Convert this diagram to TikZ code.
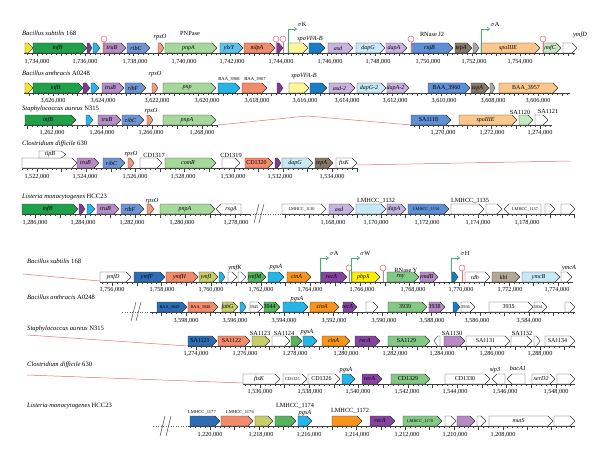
\documentclass[tikz,border=0pt]{standalone}
\usepackage{fontspec}
\setmainfont{Liberation Serif}
\usetikzlibrary{arrows.meta}

% gene colours
\definecolor{cYel}{HTML}{F2E32B}
\definecolor{cInf}{HTML}{21A04A}
\definecolor{cPur}{HTML}{7B3A96}
\definecolor{cCya}{HTML}{27B4E6}
\definecolor{cLav}{HTML}{B48DC6}
\definecolor{cRib}{HTML}{6E95D2}
\definecolor{cSal}{HTML}{F29A7E}
\definecolor{cPnp}{HTML}{A6D89C}
\definecolor{cSky}{HTML}{5DC3EE}
\definecolor{cOra}{HTML}{F08B6B}
\definecolor{cPal}{HTML}{FFF59A}
\definecolor{cBlu}{HTML}{1A7CC2}
\definecolor{cAsd}{HTML}{C7B4DE}
\definecolor{cDap}{HTML}{C7E8F6}
\definecolor{cRnj}{HTML}{5E8FD5}
\definecolor{cTep}{HTML}{857868}
\definecolor{cGry}{HTML}{A8A8A8}
\definecolor{cSpo}{HTML}{FBC78C}
\definecolor{cLgr}{HTML}{C8E7C2}
\definecolor{cDbl}{HTML}{2E6DB4}
\definecolor{cOli}{HTML}{C8CD6C}
\definecolor{cGrn}{HTML}{55B45D}
\definecolor{cCin}{HTML}{F7941D}
\definecolor{cRec}{HTML}{85449F}
\definecolor{cRny}{HTML}{84C886}
\definecolor{cYmd}{HTML}{B68BC4}
\definecolor{cKbl}{HTML}{B4A797}
\definecolor{cPbp}{HTML}{FFF000}
\definecolor{cLink}{HTML}{E07070}
\definecolor{cTerm}{HTML}{E8737A}
\definecolor{cProm}{HTML}{3DB36E}

\tikzset{
  genebox/.style={draw=black!80, line width=0.4pt, line join=round},
  glab/.style={font=\fontsize{6}{6.5}\selectfont\itshape, inner sep=0pt},
  toplab/.style={font=\fontsize{6.3}{7}\selectfont\itshape, inner sep=0pt},
  toptag/.style={font=\fontsize{6.3}{7}\selectfont, inner sep=0pt},
  toptiny/.style={font=\fontsize{4.6}{5}\selectfont, inner sep=0pt},
  numlab/.style={font=\fontsize{6.2}{7}\selectfont, inner sep=0pt},
  species/.style={font=\fontsize{6.6}{8}\selectfont, anchor=west, inner sep=0pt},
  axisline/.style={draw=black!75, line width=0.4pt},
  link/.style={draw=cLink, line width=0.5pt},
  termline/.style={draw=cTerm, line width=0.6pt},
  promline/.style={draw=cProm, line width=0.6pt, -{Straight Barb[length=2.5pt,width=4pt]}},
  breakline/.style={draw=black!70, line width=0.5pt},
  dotline/.style={draw=black!60, dotted, line width=0.5pt}
}

\newcommand{\tagu}[1]{{\upshape #1}}
\newcommand{\tags}[1]{{\upshape\fontsize{4.3}{5}\selectfont #1}}

\newcounter{gn}
% gene pointing right: x from, x to, axis y, colour, label
\newcommand{\gene}[5]{%
  \stepcounter{gn}%
  \pgfmathsetmacro{\hd}{min(5,0.6*(#2-#1))}%
  \filldraw[genebox, fill=#4] (#1,#3) -- ({#2-\hd},#3) -- (#2,#3-5) -- ({#2-\hd},#3-10) -- (#1,#3-10) -- cycle;
  \node[glab] (g\thegn) at ({(#1+#2-\hd)/2},#3-5) {#5};%
}
% gene pointing left
\newcommand{\geneL}[5]{%
  \stepcounter{gn}%
  \pgfmathsetmacro{\hd}{min(5,0.6*(#2-#1))}%
  \filldraw[genebox, fill=#4] (#2,#3) -- ({#1+\hd},#3) -- (#1,#3-5) -- ({#1+\hd},#3-10) -- (#2,#3-10) -- cycle;
  \node[glab] (g\thegn) at ({(#1+\hd+#2)/2},#3-5) {#5};%
}
% axis with ticks: from, to, axis y, tick origin, tick step
\newcommand{\scalebar}[5]{%
  \draw[axisline] (#1,#3) -- (#2,#3);
  \pgfmathtruncatemacro{\na}{ceil((#1-#4)/#5)}%
  \pgfmathtruncatemacro{\nb}{floor((#2-#4)/#5)}%
  \foreach \i in {\na,...,\nb}{%
    \pgfmathtruncatemacro{\mj}{mod(abs(\i),5)}%
    \ifnum\mj=0
      \draw[axisline] ({#4+\i*#5},#3) -- ++(0,3.5);
    \else
      \draw[axisline] ({#4+\i*#5},#3) -- ++(0,2);
    \fi
  }%
}
% terminator
\newcommand{\termin}[2]{%
  \draw[termline] (#1,#2) -- (#1,#2-11);
  \draw[termline, fill=white] (#1,#2-14) circle[radius=3pt];
}
% promoter
\newcommand{\promo}[3]{%
  \draw[promline] (#1,#2) -- (#1,#2-24) -- (#1+9,#2-24);
  \node[toptag] (s#1) at (#1+14,#2-29) {$\sigma$#3};
}

\begin{document}
\begin{tikzpicture}[x=1pt, y=-1pt]
\useasboundingbox (0,0) rectangle (600,460);

% Bacillus subtilis 168 (top)
\node[species] (sp1) at (22,33) {\textit{Bacillus subtilis} 168};
\scalebar{24}{575}{53}{37}{4.83}
\foreach \a/\b/\c/\t in {25/33/cYel/{}, 33/87/cInf/infB, 87/92/cPur/{}, 93/100/cCya/{},
    103/126/cLav/truB, 127/150/cRib/ribC, 158/164/cSal/{}, 165/217/cPnp/pnpA,
    220/243/cSky/ylxY, 244/275/cOra/mlpA, 276/283/cPur/{}, 288/308/cPal/{},
    309/325/cBlu/{}, 328/353/cAsd/asd, 356/385/cDap/dapG, 386/407/cAsd/dapA,
    411/453/cRnj/rnjB, 455/472/cTep/tepA, 473/479/cGry/{}, 481/540/cSpo/spoIIIE,
    543/561/cLgr/ymfC, 563/577/white/{}}{\gene{\a}{\b}{53}{\c}{\t}}
\foreach \x in {104,276,283,411,543}{\termin{\x}{53}}
\promo{288}{53}{K}
\promo{481}{53}{A}
\node[toplab] (t1rpso) at (160,37) {rpsO};
\node[toptag] (t1pnp) at (190,33) {PNPase};
\node[toplab] (t1spo) at (310,39) {spoVFA-B};
\node[toptag] (t1rnj) at (432,34) {RNase J2};
\node[toplab] (t1ymfd) at (580,35) {ymfD};
\foreach \x/\t in {37/{1,734,000}, 85/{1,736,000}, 135/{1,738,000}, 184/{1,740,000},
    232/{1,742,000}, 281/{1,744,000}, 330/{1,746,000}, 378/{1,748,000},
    428/{1,750,000}, 474/{1,752,000}, 520/{1,754,000}}{\node[numlab] (t1n\x) at (\x,62) {\t};}

% Bacillus anthracis A0248 (top)
\node[species] (sp2) at (22,73) {\textit{Bacillus anthracis} A0248};
\scalebar{24}{570}{93}{53}{4.85}
\foreach \a/\b/\c/\t in {25/33/cYel/{}, 33/83/cInf/infB, 83/90/cPur/{}, 91/99/cCya/{},
    102/124/cLav/truB, 125/146/cRib/ribF, 152/158/cSal/{}, 163/216/cPnp/pnp,
    218/240/cCya/{}, 242/267/cOra/{}, 277/283/cPur/{}, 289/309/cPal/{},
    310/327/cBlu/{}, 329/355/cAsd/asd-2, 357/386/cDap/dapG-2, 387/409/cAsd/dapA-2,
    428/470/cRnj/\tagu{BAA\_3960}, 471/489/cTep/tepA, 490/495/cGry/{},
    499/558/cSpo/\tagu{BAA\_3957}}{\gene{\a}{\b}{93}{\c}{\t}}
\node[toplab] (t2rpso) at (155,74) {rpsO};
\node[toptiny] (t2b68) at (229,79) {BAA\_3968};
\node[toptiny] (t2b67) at (255,79) {BAA\_3967};
\node[toplab] (t2spo) at (304,76) {spoVFA-B};
\foreach \x/\t in {53/{3,626,000}, 103/{3,624,000}, 157/{3,622,000}, 207/{3,620,000},
    257/{3,618,000}, 305/{3,616,000}, 347/{3,614,000}, 395/{3,612,000},
    444/{3,610,000}, 493/{3,608,000}, 538/{3,606,000}}{\node[numlab] (t2n\x) at (\x,101) {\t};}

% Staphylococcus aureus N315 (top)
\node[species] (sp3) at (22,109) {\textit{Staphylococcus aureus} N315};
\scalebar{24}{218}{125}{52}{5.0}
\scalebar{410}{552}{125}{443}{4.85}
\foreach \a/\b/\c/\t in {25/76/cInf/infB, 86/93/cCya/{}, 98/121/cLav/truB, 122/144/cRib/ribC,
    147/153/cSal/{}, 163/216/cPnp/pnpA, 411/451/cRnj/\tagu{SA1118},
    459/517/cSpo/spoIIIE, 519/533/cLgr/{}, 535/548/white/{}}{\gene{\a}{\b}{125}{\c}{\t}}
\coordinate (l3a) at (218,125);
\coordinate (l3b) at (307,116);
\coordinate (l3c) at (411,125);
\draw[link] (l3a) -- (l3b) -- (l3c);
\node[toplab] (t3rpso) at (151,111) {rpsO};
\node[toptag] (t3sa20) at (520,112) {SA1120};
\node[toptag] (t3sa21) at (548,111) {SA1121};
\foreach \x/\t in {52/{1,262,000}, 102/{1,264,000}, 151/{1,266,000}, 202/{1,268,000},
    443/{1,270,000}, 492/{1,272,000}, 540/{1,274,000}}{\node[numlab] (t3n\x) at (\x,133) {\t};}

% Clostridium difficile 630 (top)
\node[species] (sp4) at (22,144) {\textit{Clostridium difficile} 630};
\scalebar{22}{358}{168}{37}{4.92}
\foreach \a/\b/\c/\t in {22/77/white/{}, 77/99/cYmd/truB, 103/125/cRib/ribC, 128/134/cSal/{},
    140/162/white/{}, 165/216/cPnp/comR, 222/240/white/{}, 245/273/cOra/\tagu{CD1320},
    275/281/cPur/{}, 282/313/cDap/dapG, 315/333/cTep/tepA, 336/357/white/ftsK}{\gene{\a}{\b}{168}{\c}{\t}}
\filldraw[genebox, fill=white] (39,158) -- (61,158) -- (66,154.5) -- (61,151) -- (39,151) -- cycle;
\node[glab] (tipb) at (50,154.5) {tipB};
\coordinate (l4a) at (357,165);
\coordinate (l4b) at (570,161);
\draw[link] (l4a) -- (l4b);
\node[toplab] (t4rpso) at (131,154) {rpsO};
\node[toptag] (t4cd17) at (154,155) {CD1317};
\node[toptag] (t4cd19) at (231,155) {CD1319};
\foreach \x/\t in {37/{1,522,000}, 85/{1,524,000}, 135/{1,526,000}, 183/{1,528,000},
    233/{1,530,000}, 280/{1,532,000}, 332/{1,534,000}}{\node[numlab] (t4n\x) at (\x,177) {\t};}

% Listeria monocytogenes HCC23 (top)
\node[species] (sp5) at (22,197) {\textit{Listeria monocytogenes} HCC23};
\scalebar{22}{250}{214}{35}{5.0}
\scalebar{282}{575}{214}{333}{4.83}
\coordinate (b5a) at (250,214);
\coordinate (b5b) at (282,214);
\draw[dotline] (b5a) -- (b5b);
\draw[breakline] (254,223) -- (259,204);
\draw[breakline] (259,223) -- (264,204);
\foreach \a/\b/\c/\t in {22/78/cInf/infB, 79/85/cPur/{}, 87/95/cCya/{}, 97/119/cLav/truB,
    121/144/cRib/ribF, 147/154/cSal/{}, 160/215/cPnp/pnpA,
    282/326/white/\tags{LMHCC\_1130}, 329/354/cAsd/asd, 356/386/cDap/{}, 387/406/cAsd/dapA,
    408/449/cRnj/\tags{LMHCC\_1134}, 451/484/white/{}, 486/502/white/{},
    545/555/white/{}, 561/575/white/{}}{\gene{\a}{\b}{214}{\c}{\t}}
\geneL{216}{241}{214}{white}{rsgA}
\geneL{504}{541}{214}{white}{\tags{LMHCC\_1137}}
\node[toplab] (t5rpso) at (152,201) {rpsO};
\node[toptag] (t5l32) at (376,201) {LMHCC\_1132};
\node[toptag] (t5l35) at (470,201) {LMHCC\_1135};
\foreach \x/\t in {35/{1,286,000}, 83/{1,284,000}, 132/{1,282,000}, 182/{1,280,000},
    236/{1,278,000}, 333/{1,168,000}, 376/{1,170,000}, 427/{1,172,000},
    478/{1,174,000}, 527/{1,178,000}}{\node[numlab] (t5n\x) at (\x,223) {\t};}

% Bacillus subtilis 168 (bottom)
\node[species] (sp6) at (27,261) {\textit{Bacillus subtilis} 168};
\coordinate (l6a) at (23,274);
\coordinate (l6b) at (100,281);
\draw[link] (l6a) -- (l6b);
\scalebar{100}{573}{282}{112}{4.96}
\foreach \a/\b/\c/\t in {100/131/white/ymfD, 134/165/cDbl/ymfF, 166/198/cOra/ymfH,
    199/218/cOli/ymfI, 219/225/cCya/{}, 228/237/white/{}, 238/246/white/{},
    248/266/cGrn/ymfM, 268/284/cCya/{}, 287/311/cCin/cinA, 321/347/cRec/recA,
    352/380/cPbp/pbpX, 387/419/cRny/rny, 420/438/cYmd/ymdB, 452/458/cBlu/{},
    465/490/white/tdh, 492/520/cKbl/kbl, 522/560/cDap/ymcB,
    561/572/white/{}}{\gene{\a}{\b}{282}{\c}{\t}}
\foreach \x in {349,383,462}{\termin{\x}{282}}
\promo{320}{282}{A}
\promo{351}{282}{W}
\promo{451}{282}{H}
\node[toplab] (t6ymfk) at (235,268) {ymfK};
\node[toplab] (t6pgsa) at (276,267) {pgsA};
\node[toptag] (t6rny) at (406,270) {RNase Y};
\node[toplab] (t6ymca) at (569,268) {ymcA};
\foreach \x/\t in {112/{1,756,000}, 162/{1,758,000}, 211/{1,760,000}, 261/{1,762,000},
    310/{1,764,000}, 362/{1,766,000}, 413/{1,768,000}, 461/{1,770,000},
    510/{1,772,000}, 557/{1,774,000}}{\node[numlab] (t6n\x) at (\x,290) {\t};}

% Bacillus anthracis A0248 (bottom)
\node[species] (sp7) at (27,297) {\textit{Bacillus anthracis} A0248};
\coordinate (b7a) at (122,312);
\coordinate (b7b) at (150,312);
\draw[dotline] (b7a) -- (b7b);
\draw[breakline] (131,321) -- (136,302);
\draw[breakline] (136,321) -- (141,302);
\scalebar{150}{575}{312}{186}{4.9}
\foreach \a/\b/\c/\t in {157/187/cDbl/\tags{BAA\_3949}, 188/218/cOra/\tags{BAA\_3948},
    222/238/cOli/fabG, 240/246/cCya/{}, 250/263/white/\tags{3945}, 264/280/cGrn/\tagu{3944},
    283/308/cCya/{}, 310/339/cCin/cinA, 343/357/cRec/recA, 366/378/white/{},
    388/427/cRny/\tagu{3939}, 429/445/cYmd/\tagu{3938}, 453/460/cBlu/{},
    461/475/white/\tags{3936}, 489/533/white/\tagu{3935}, 534/547/white/\tags{3934},
    565/575/white/{}}{\gene{\a}{\b}{312}{\c}{\t}}
\node[toplab] (t7pgsa) at (297,299) {pgsA};
\foreach \x/\t in {186/{3,598,000}, 235/{3,596,000}, 284/{3,594,000}, 334/{3,592,000},
    384/{3,590,000}, 432/{3,588,000}, 477/{3,586,000}, 529/{3,584,000}}{\node[numlab] (t7n\x) at (\x,321) {\t};}

% Staphylococcus aureus N315 (bottom)
\node[species] (sp8) at (27,329) {\textit{Staphylococcus aureus} N315};
\coordinate (l8a) at (27,335);
\coordinate (l8b) at (188,346);
\draw[link] (l8a) -- (l8b);
\scalebar{188}{575}{346}{196}{4.91}
\foreach \a/\b/\c/\t in {188/217/cDbl/\tagu{SA1121}, 218/250/cOra/\tagu{SA1122},
    252/270/cOli/{}, 272/290/white/{}, 291/302/cGrn/{}, 303/317/cCya/{},
    322/350/cCin/cinA, 355/380/cRec/recA, 388/430/cRny/\tagu{SA1129},
    444/465/cYmd/{}, 466/510/white/\tagu{SA1131}, 511/532/white/{},
    534/540/white/{}, 545/575/white/\tagu{SA1134}}{\gene{\a}{\b}{346}{\c}{\t}}
\geneL{434}{440}{346}{white}{}
\node[toptag] (t8s23) at (260,333) {SA1123};
\node[toptag] (t8s24) at (284,333) {SA1124};
\node[toplab] (t8pgsa) at (307,332) {pgsA};
\node[toptag] (t8s30) at (452,333) {SA1130};
\node[toptag] (t8s32) at (522,333) {SA1132};
\foreach \x/\t in {196/{1,274,000}, 245/{1,276,000}, 295/{1,278,000}, 346/{1,280,000},
    395/{1,282,000}, 442/{1,284,000}, 492/{1,286,000}, 540/{1,288,000}}{\node[numlab] (t8n\x) at (\x,354) {\t};}

% Clostridium difficile 630 (bottom)
\node[species] (sp9) at (27,365) {\textit{Clostridium difficile} 630};
\coordinate (l9a) at (27,375);
\coordinate (l9b) at (243,383);
\draw[link] (l9a) -- (l9b);
\scalebar{243}{575}{384}{260}{4.93}
\foreach \a/\b/\c/\t in {243/280/white/ftsK, 283/307/white/\tags{CD1325}, 308/340/white/\tagu{CD1326},
    342/355/cCya/{}, 362/382/cRec/recA, 391/430/cRny/\tagu{CD1329},
    445/490/white/\tagu{CD1330}, 532/555/white/xerD2, 557/575/white/{}}{\gene{\a}{\b}{384}{\c}{\t}}
\geneL{492}{505}{384}{white}{}
\geneL{507}{525}{384}{white}{}
\node[toplab] (t9pgsa) at (346,370) {pgsA};
\node[toplab] (t9sip) at (495,370) {sip3};
\node[toplab] (t9bac) at (518,368) {bacA1};
\foreach \x/\t in {260/{1,536,000}, 310/{1,538,000}, 358/{1,540,000}, 407/{1,542,000},
    455/{1,544,000}, 505/{1,546,000}, 556/{1,548,000}}{\node[numlab] (t9n\x) at (\x,392) {\t};}

% Listeria monocytogenes HCC23 (bottom)
\node[species] (sp10) at (27,406) {\textit{Listeria monocytogenes} HCC23};
\coordinate (b10a) at (153,426);
\coordinate (b10b) at (188,426);
\draw[dotline] (b10a) -- (b10b);
\draw[breakline] (160,436) -- (165,416);
\draw[breakline] (166,436) -- (171,416);
\scalebar{188}{575}{426}{210}{4.88}
\foreach \a/\b/\c/\t in {190/220/cDbl/{}, 221/253/cOra/{}, 255/273/cOli/{}, 275/296/cGrn/{},
    298/312/cCya/{}, 332/362/cCin/{}, 370/395/cRec/recA, 403/442/cRny/\tags{LMHCC\_1170},
    445/456/white/{}, 457/475/cYmd/{}, 477/486/white/{}, 489/553/white/mutS,
    554/575/white/{}}{\gene{\a}{\b}{426}{\c}{\t}}
\node[toptiny] (t10l77) at (202,412) {LMHCC\_1177};
\node[toptiny] (t10l76) at (240,412) {LMHCC\_1176};
\node[toptag] (t10l74) at (295,406) {LMHCC\_1174};
\node[toplab] (t10pgsa) at (305,413) {pgsA};
\node[toptag] (t10l72) at (350,411) {LMHCC\_1172};
\foreach \x/\t in {210/{1,220,000}, 261/{1,218,000}, 309/{1,216,000}, 357/{1,214,000},
    407/{1,212,000}, 455/{1,210,000}, 503/{1,208,000}}{\node[numlab] (t10n\x) at (\x,435) {\t};}

\end{tikzpicture}
\end{document}
